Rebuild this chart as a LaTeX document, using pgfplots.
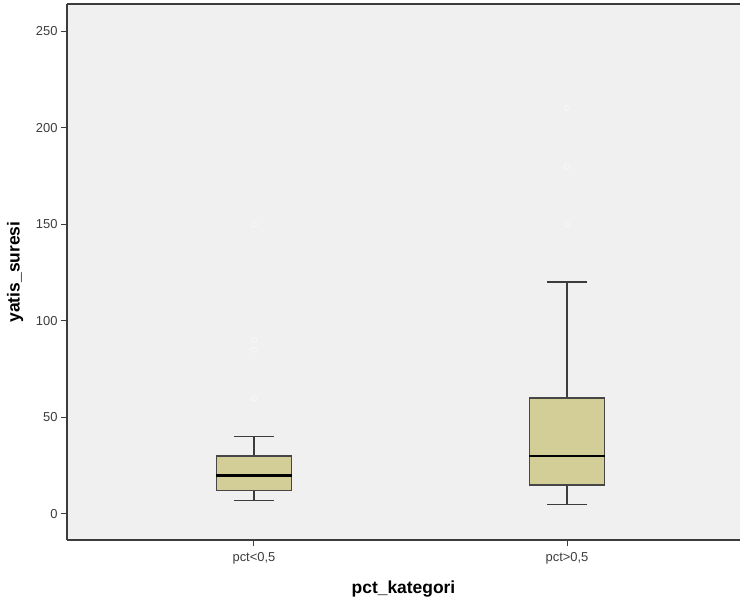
\documentclass[border=0pt]{standalone}
\usepackage{fontspec}
\setmainfont{Liberation Sans}
\usepackage{pgfplots}
\pgfplotsset{compat=1.18}
\usepgfplotslibrary{statistics}
\definecolor{bgc}{HTML}{F0F0F0}
\definecolor{boxc}{HTML}{D3CE98}
\definecolor{linec}{HTML}{3C3C3C}
\begin{document}
\begin{tikzpicture}
\begin{axis}[
  name=ax,
  at={(0,0)}, anchor=south west,
  scale only axis, width=673bp, height=536bp,
  xmin=4.026, xmax=25.527, ymin=-13.46, ymax=264,
  axis lines*=left,
  axis background/.style={fill=bgc},
  axis line style={linec, line width=1.2bp},
  tick style={linec, line width=1bp},
  tick align=outside, major tick length=6bp,
  xtick={10,20}, xticklabels={{pct<0,5},{pct>0,5}},
  ytick={0,50,...,250},
  ticklabel style={font=\fontsize{13}{15}\selectfont, text=linec},
  xticklabel style={yshift=-2.5bp},
  /pgf/number format/assume math mode=true,
  xlabel={pct\_kategori}, ylabel={yatis\_suresi},
  label style={font=\bfseries\fontsize{17.5}{20}\selectfont},
  xlabel style={at={(axis description cs:0.5,-0.0914)}, anchor=center},
  ylabel style={at={(axis description cs:-0.0770,0.5)}, anchor=center},
  boxplot/draw direction=y,
  boxplot/every median/.style={draw=black, line width=2.8bp},
  boxplot/every whisker/.style={draw=linec, line width=1.4bp},
  boxplot/every box/.style={draw=linec!85!gray, line width=1.3bp, fill=boxc},
]
\addplot[boxplot prepared={draw position=10, lower whisker=7, lower quartile=12,
    median=20, upper quartile=30, upper whisker=40,
    box extend=2.4, whisker extend=1.25},
  draw=linec] coordinates {};
\addplot[boxplot prepared={draw position=20, lower whisker=5, lower quartile=15,
    median=30, upper quartile=60, upper whisker=120,
    box extend=2.4, whisker extend=1.25},
  draw=linec] coordinates {};
\addplot[only marks, mark=o, mark size=2.6bp, mark options={draw=white, draw opacity=0.6, line width=0.6bp, fill=none}]
  coordinates {(10,60) (10,85) (10,90) (10,150) (20,150) (20,180) (20,210)};
\end{axis}
\draw[linec, line width=1.2bp] (0,536bp) -- (673bp,536bp);
\pgfresetboundingbox
\path (-67bp,-63bp) rectangle (673bp,540bp);
\end{tikzpicture}
\end{document}
